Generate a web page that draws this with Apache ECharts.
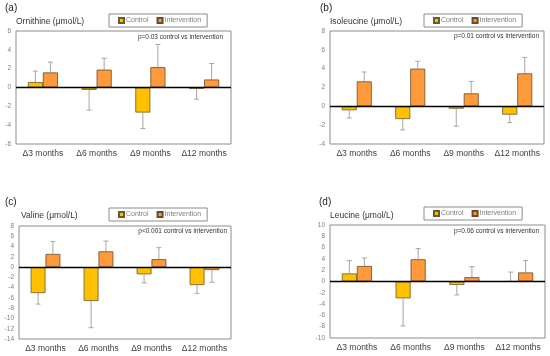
<!DOCTYPE html>
<html><head><meta charset="utf-8">
<script src="https://cdn.jsdelivr.net/npm/echarts@6/dist/echarts.min.js"></script>
<style>html,body{margin:0;padding:0;background:#fff}#c{width:550px;height:356px}</style>
</head><body><div id="c"></div>
<script>
const categories = ['Δ3 months','Δ6 months','Δ9 months','Δ12 months'];
// (a) Ornithine
const ornControl = [0.57, -0.25, -2.66, -0.14];
const ornControlErr = [1.17, 2.15, 1.70, 1.10];
const ornInterv = [1.6, 1.9, 2.16, 0.85];
const ornIntervErr = [1.1, 1.2, 2.41, 1.7];
// (b) Isoleucine
const ileControl = [-0.42, -1.35, -0.25, -0.88];
const ileControlErr = [0.82, 1.15, 1.85, 0.85];
const ileInterv = [2.65, 4.0, 1.38, 3.5];
const ileIntervErr = [1.0, 0.78, 1.27, 1.7];
// (c) Valine
const valControl = [-5.06, -6.6, -1.4, -3.5];
const valControlErr = [2.14, 5.2, 1.67, 1.6];
const valInterv = [2.56, 3.07, 1.54, -0.58];
const valIntervErr = [2.44, 2.0, 2.24, 2.37];
// (d) Leucine
const leuControl = [1.43, -2.98, -0.6, 0.02];
const leuControlErr = [2.27, 4.88, 1.78, 1.65];
const leuInterv = [2.74, 3.93, 0.77, 1.6];
const leuIntervErr = [1.43, 1.9, 1.85, 2.1];

const panels = [
  {tag:'(a)', title:'Ornithine (μmol/L)', p:'p=0.03 control vs intervention', min:-6, max:6, interval:2,
   c:ornControl, ce:ornControlErr, i:ornInterv, ie:ornIntervErr,
   grid:{left:16, top:31, width:215, height:113}, tagPos:[5,3], titlePos:[16,17], pPos:[223,37], legPos:[109,14]},
  {tag:'(b)', title:'Isoleucine (μmol/L)', p:'p=0.01 control vs intervention', min:-4, max:8, interval:2,
   c:ileControl, ce:ileControlErr, i:ileInterv, ie:ileIntervErr,
   grid:{left:330, top:31, width:214, height:113}, tagPos:[320,3], titlePos:[330,17], pPos:[539,36], legPos:[424,14]},
  {tag:'(c)', title:'Valine (μmol/L)', p:'p<0.001 control vs intervention', min:-14, max:8, interval:2,
   c:valControl, ce:valControlErr, i:valInterv, ie:valIntervErr,
   grid:{left:19, top:226, width:212, height:113}, tagPos:[5,197], titlePos:[21,211], pPos:[227,231], legPos:[109,208]},
  {tag:'(d)', title:'Leucine (μmol/L)', p:'p=0.06 control vs intervention', min:-10, max:10, interval:2,
   c:leuControl, ce:leuControlErr, i:leuInterv, ie:leuIntervErr,
   grid:{left:330, top:225, width:215, height:113}, tagPos:[319,197], titlePos:[330,211], pPos:[539,231], legPos:[424,207]}
];

const FONT = 'Liberation Sans, Arial, sans-serif';
const CTRL = '#FFC000', INTV = '#FF9A3C';
const GAP = 0.44;

function errSeries(vals, errs, idx, side){
  return {
    type:'custom', xAxisIndex:idx, yAxisIndex:idx, silent:true, z:1,
    data: vals.map((v,k)=>[k, v, errs[k]]),
    renderItem:function(params, api){
      const k = api.value(0), v = api.value(1), e = api.value(2);
      const band = api.size([1,0])[0];
      const bw = band*(1-GAP)/2;
      const end = v >= 0 ? v + e : v - e;
      const p0 = api.coord([k, v]);
      const p1 = api.coord([k, end]);
      const x = p0[0] + side*bw/2;
      const cap = 2.5;
      const st = {stroke:'#A6A6A6', lineWidth:1};
      return {type:'group', children:[
        {type:'line', shape:{x1:x, y1:p0[1], x2:x, y2:p1[1]}, style:st},
        {type:'line', shape:{x1:x-cap, y1:p1[1], x2:x+cap, y2:p1[1]}, style:st}
      ]};
    }
  };
}

const option = {
  animation:false,
  textStyle:{fontFamily:FONT},
  title:[], legend:[], grid:[], xAxis:[], yAxis:[], series:[], graphic:[]
};

panels.forEach((p, idx)=>{
  option.grid.push(Object.assign({show:true, borderColor:'#8C8C8C', borderWidth:1, backgroundColor:'#fff'}, p.grid));
  option.xAxis.push({type:'category', gridIndex:idx, data:categories,
    axisLine:{show:false}, axisTick:{show:false},
    axisLabel:{interval:0, fontSize:8.5, color:'#404040', margin:5, fontFamily:FONT}});
  option.yAxis.push({type:'value', gridIndex:idx, min:p.min, max:p.max, interval:p.interval,
    axisLine:{show:false}, axisTick:{show:false}, splitLine:{show:false},
    axisLabel:{fontSize:6.5, color:'#808080', margin:5, fontFamily:FONT}});
  option.title.push({text:p.tag, left:p.tagPos[0], top:p.tagPos[1], padding:0,
    textStyle:{fontSize:10, fontWeight:'normal', color:'#222', fontFamily:FONT}});
  option.title.push({text:p.title, left:p.titlePos[0], top:p.titlePos[1], padding:0,
    textStyle:{fontSize:8.5, fontWeight:'normal', color:'#333', fontFamily:FONT}});
  option.graphic.push({type:'text', x:p.pPos[0], y:p.pPos[1],
    style:{text:p.p, align:'right', verticalAlign:'middle', fontSize:6.5, fill:'#333', fontFamily:FONT}});
  option.legend.push({left:p.legPos[0], top:p.legPos[1], data:['Control','Intervention'],
    backgroundColor:'#fff', borderColor:'#8C8C8C', borderWidth:1, padding:[3,6,3,9],
    itemWidth:5, itemHeight:5, itemGap:8, icon:'rect', selectedMode:false,
    textStyle:{fontSize:7, color:'#7f7f7f', fontFamily:FONT, padding:[0,0,0,-3]}});
  const mk = {silent:true, symbol:'none', label:{show:false},
    lineStyle:{color:'#000', width:1.3, type:'solid'}, data:[{yAxis:0}]};
  option.series.push({name:'Control', type:'bar', xAxisIndex:idx, yAxisIndex:idx, data:p.c,
    barGap:'0%', barCategoryGap:(GAP*100)+'%', z:2,
    itemStyle:{color:CTRL, borderColor:'#6b5a2a', borderWidth:0.8}});
  option.series.push({name:'Intervention', type:'bar', xAxisIndex:idx, yAxisIndex:idx, data:p.i,
    barGap:'0%', barCategoryGap:(GAP*100)+'%', z:2,
    itemStyle:{color:INTV, borderColor:'#6b4a2a', borderWidth:0.8}, markLine:mk});
  option.series.push(errSeries(p.c, p.ce, idx, -1));
  option.series.push(errSeries(p.i, p.ie, idx, 1));
});

const chart = echarts.init(document.getElementById('c'), null, {renderer:'canvas'});
chart.setOption(option);
</script></body></html>
